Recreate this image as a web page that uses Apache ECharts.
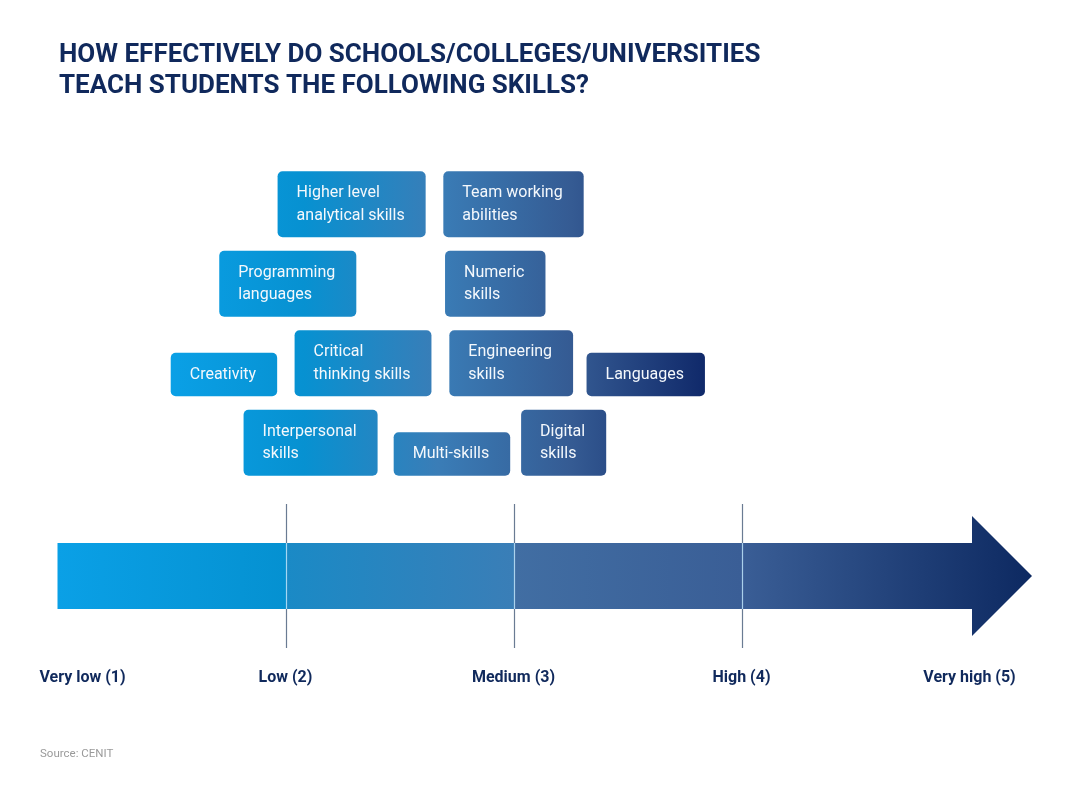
<!DOCTYPE html>
<html><head><meta charset="utf-8">
<script src="https://cdn.jsdelivr.net/npm/echarts@6/dist/echarts.min.js"></script>
<style>html,body{margin:0;padding:0;background:#fff}#c{width:1090px;height:806px}</style>
</head><body><div id="c"></div>
<script>
// ---- data ----
const skillNames = [
  'Higher level\nanalytical skills', 'Team working\nabilities',
  'Programming\nlanguages', 'Numeric\nskills',
  'Creativity', 'Critical\nthinking skills', 'Engineering\nskills', 'Languages',
  'Interpersonal\nskills', 'Multi-skills', 'Digital\nskills'
];
const skillScores = [2.29, 3.00, 2.01, 2.92, 1.73, 2.34, 2.99, 3.58, 2.11, 2.73, 3.22];
const skillRows   = [1, 1, 2, 2, 3, 3, 3, 3, 4, 4, 4];
const tickValues  = [1, 2, 3, 4, 5];
const tickLabels  = ['Very low (1)', 'Low (2)', 'Medium (3)', 'High (4)', 'Very high (5)'];
const titleLines  = ['HOW EFFECTIVELY DO SCHOOLS/COLLEGES/UNIVERSITIES', 'TEACH STUDENTS THE FOLLOWING SKILLS?'];
const sourceText  = 'Source: CENIT';

// ---- styles ----
const FONT = 'Roboto, "Noto Sans", sans-serif';
const NAVY = '#10295c';
const BOX_FS = 16, BOX_LH = 22.5, PAD_X = 19, PAD_Y = 10.5;
const ctx = document.createElement('canvas').getContext('2d');
ctx.font = BOX_FS + 'px Roboto';
function boxW(t) { return Math.max.apply(null, t.split('\n').map(s => ctx.measureText(s).width)) + 2 * PAD_X + 2; }
function boxH(t) { return t.split('\n').length * BOX_LH + 2 * PAD_Y; }
const boxStops = [
  {offset: 0, color: '#0aa0e6'}, {offset: 0.25, color: '#0791d1'},
  {offset: 0.5, color: '#3a7db7'}, {offset: 0.75, color: '#355b93'},
  {offset: 1, color: '#10296a'}
];
const arrowStops = [
  {offset: 0, color: '#0aa0e6'}, {offset: 0.234, color: '#0591d1'},
  {offset: 0.2342, color: '#1a8ac6'}, {offset: 0.468, color: '#3a7eb7'},
  {offset: 0.4682, color: '#416ea3'}, {offset: 0.702, color: '#3a5e96'},
  {offset: 0.7022, color: '#3a5e96'}, {offset: 1, color: '#0d2961'}
];

const chart = echarts.init(document.getElementById('c'), null, {renderer: 'canvas'});
const GRID_L = 57.5, GRID_W = 912;

chart.setOption({
  animation: false,
  backgroundColor: '#ffffff',
  title: [
    {text: titleLines.join('\n'), left: 59, top: 40, padding: 0,
     textStyle: {fontSize: 26, fontWeight: 'bold', color: NAVY, fontFamily: FONT, lineHeight: 31}},
    {text: sourceText, left: 40, top: 748, padding: 0,
     textStyle: {fontSize: 11.5, fontWeight: 'normal', color: '#9a9a9a', fontFamily: FONT}}
  ],
  grid: [
    {left: GRID_L, width: GRID_W, top: 157.75, height: 318},
    {left: GRID_L, width: GRID_W, top: 504, height: 144}
  ],
  xAxis: [
    {gridIndex: 0, type: 'value', min: 1, max: 5, interval: 1, show: false},
    {gridIndex: 1, type: 'value', min: 1, max: 5, interval: 1,
     axisLine: {show: false}, axisTick: {show: false}, splitLine: {show: false},
     axisLabel: {
       margin: 22, fontSize: 16, fontWeight: 'bold', color: NAVY, fontFamily: FONT,
       formatter: v => {
         const i = tickValues.indexOf(v);
         if (i < 0) return '';
         return i === 0 ? '{first|' + tickLabels[i] + '}' : tickLabels[i];
       },
       rich: {first: {fontSize: 16, fontWeight: 'bold', color: NAVY, fontFamily: FONT, padding: [0, 0, 0, 50]}}
     }}
  ],
  yAxis: [
    {gridIndex: 0, type: 'value', min: 0, max: 4, inverse: true, show: false},
    {gridIndex: 1, type: 'value', min: -1, max: 1, show: false}
  ],
  series: [
    {
      type: 'custom', xAxisIndex: 1, yAxisIndex: 1, silent: true,
      data: [[1, 0]],
      renderItem: (params, api) => {
        const x0 = api.coord([tickValues[0], 0])[0];
        const x5 = api.coord([tickValues[tickValues.length - 1], 0])[0];
        const yc = api.coord([1, 0])[1];
        const yTop = api.coord([1, 1])[1], yBot = api.coord([1, -1])[1];
        const bh = 33, hh = 60, hs = x5 + 2.5, tip = hs + 60;
        const children = [];
        tickValues.slice(1, -1).forEach(v => {
          const x = Math.round(api.coord([v, 0])[0]) + 0.5;
          children.push({type: 'line', shape: {x1: x, y1: yTop, x2: x, y2: yBot},
            style: {stroke: '#6a7b93', lineWidth: 1.2}});
        });
        children.push({type: 'polygon',
          shape: {points: [[x0, yc - bh], [hs, yc - bh], [hs, yc - hh], [tip, yc], [hs, yc + hh], [hs, yc + bh], [x0, yc + bh]]},
          style: {fill: new echarts.graphic.LinearGradient(x0, 0, tip, 0, arrowStops, true)}});
        tickValues.slice(1, -1).forEach(v => {
          const x = Math.round(api.coord([v, 0])[0]) + 0.5;
          children.push({type: 'line', shape: {x1: x, y1: yc - bh, x2: x, y2: yc + bh},
            style: {stroke: 'rgba(190,228,250,0.85)', lineWidth: 1.2}});
        });
        return {type: 'group', children};
      }
    },
    {
      type: 'custom', xAxisIndex: 0, yAxisIndex: 0, silent: true,
      data: skillScores.map((s, i) => [s, skillRows[i]]),
      renderItem: (params, api) => {
        const i = params.dataIndex;
        let minL = Infinity, maxR = -Infinity;
        for (let k = 0; k < skillNames.length; k++) {
          const q = api.coord([skillScores[k], skillRows[k]]);
          const w = boxW(skillNames[k]);
          minL = Math.min(minL, q[0] - w / 2);
          maxR = Math.max(maxR, q[0] + w / 2);
        }
        const p = api.coord([api.value(0), api.value(1)]);
        const w = boxW(skillNames[i]), h = boxH(skillNames[i]);
        const x = p[0] - w / 2, y = p[1] - h;
        return {type: 'group', children: [
          {type: 'rect', shape: {x, y, width: w, height: h, r: 5},
           style: {fill: new echarts.graphic.LinearGradient(minL, 0, maxR, 0, boxStops, true)}},
          {type: 'text', style: {x: x + PAD_X, y: y + h / 2, text: skillNames[i], fill: '#f4f8fc',
            fontSize: BOX_FS, fontFamily: FONT, lineHeight: BOX_LH, verticalAlign: 'middle', align: 'left'}}
        ]};
      }
    }
  ]
});
</script></body></html>
